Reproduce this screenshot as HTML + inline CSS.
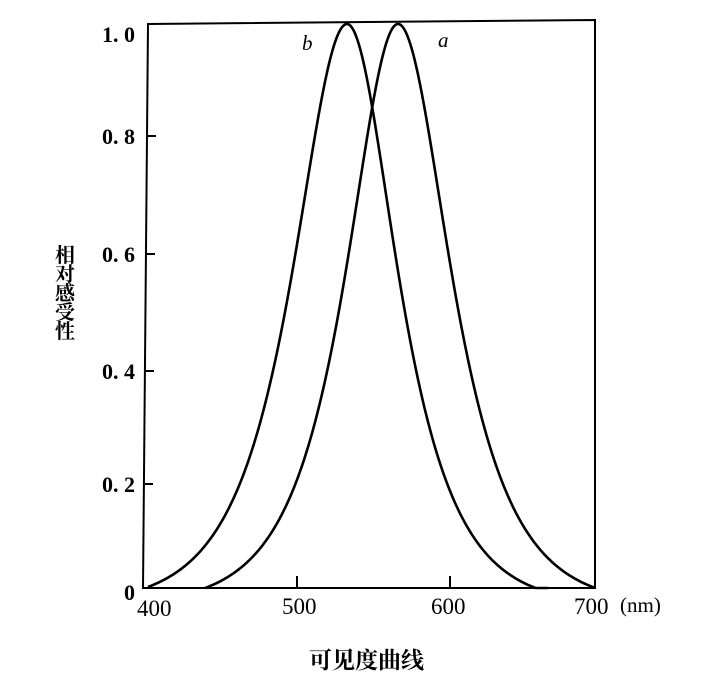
<!DOCTYPE html>
<html><head><meta charset="utf-8"><style>
body{margin:0;background:#fff;width:727px;height:679px;overflow:hidden}
svg text{font-family:"Liberation Serif","Noto Serif CJK SC",serif;fill:#000}
</style></head><body>
<svg width="727" height="679" viewBox="0 0 727 679">
<g fill="none" stroke="#000" stroke-width="2">
<path d="M148,24 L595,20 L595,588 L143,588 Z"/>
<path d="M148,136 h8 M147,254 h8 M146,371 h8 M145,484 h8 M297,588 v-12 M450,588 v-12"/>
</g>
<g fill="none" stroke="#000" stroke-width="2.6" stroke-linejoin="round">
<path id="b"/>
<path id="a"/>
</g>
<g font-size="22" font-weight="bold">
<text x="102" y="42">1. 0</text>
<text x="102" y="144">0. 8</text>
<text x="102" y="262">0. 6</text>
<text x="102" y="379">0. 4</text>
<text x="102" y="492">0. 2</text>
<text x="124" y="600">0</text>
</g>
<g font-size="23">
<text x="137" y="616">400</text>
<text x="282" y="614">500</text>
<text x="431" y="614">600</text>
<text x="574" y="614">700</text>
</g>
<text x="620" y="612" font-size="21">(nm)</text>
<text x="302" y="50" font-size="21" font-style="italic">b</text>
<text x="438" y="47" font-size="21" font-style="italic">a</text>
<g font-size="20" font-weight="bold" style="font-family:'Noto Sans CJK SC',sans-serif">
<text x="55" y="262">相</text><text x="55" y="281">对</text><text x="55" y="300">感</text><text x="55" y="319">受</text><text x="55" y="338">性</text>
<text x="309" y="668" font-size="23">可见度曲线</text>
</g>
</svg>
<script>
function curve(c,sl,sr,x0,x1,off){var d="";for(var x=x0;x<=x1;x+=1){var dx=x-c,s=dx<0?sl:sr;var v=2/(Math.exp(dx/s)+Math.exp(-dx/s));v=Math.pow(v,0.95);v=(v-off)/(1-off);if(v<0)v=0;var y=588-564*v;d+=(d?" L":"M")+x+","+y.toFixed(1);}return d;}
document.getElementById("b").setAttribute("d",curve(347,46,43,148,548,0.03));
document.getElementById("a").setAttribute("d",curve(398,44,45,205,595,0.03));
</script>
</body></html>
